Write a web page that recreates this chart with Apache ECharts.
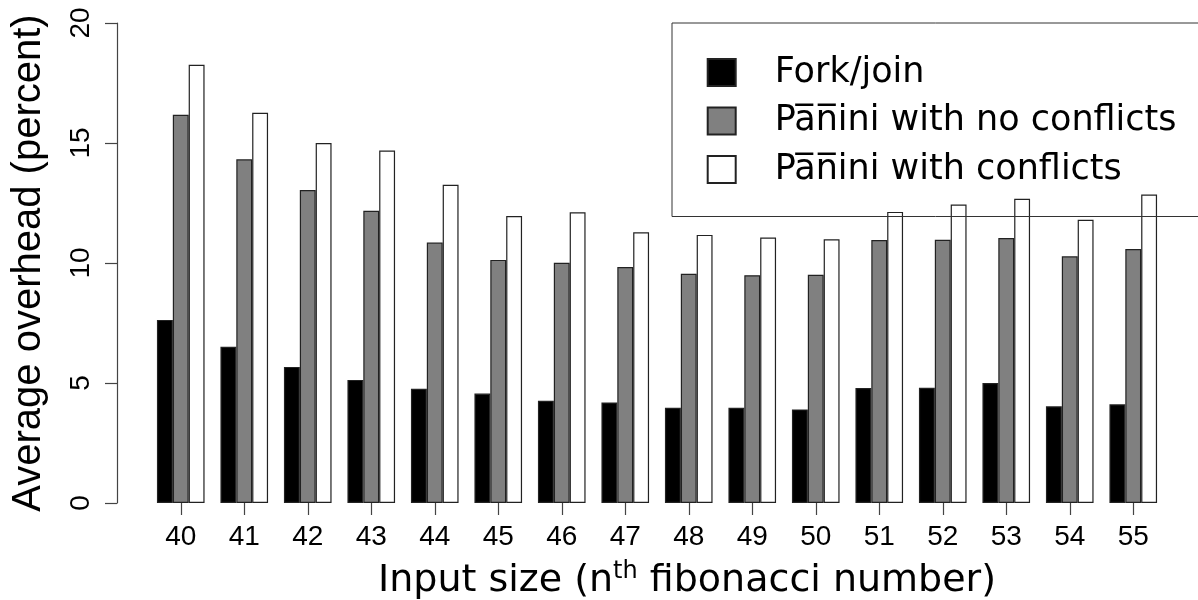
<!DOCTYPE html>
<html>
<head>
<meta charset="utf-8">
<script src="https://cdn.jsdelivr.net/npm/echarts@6/dist/echarts.min.js"></script>
<style>html,body{margin:0;padding:0;background:#fff;}#c{width:1198px;height:600px;}</style>
</head>
<body>
<div id="c"></div>
<script>
var categories = ['40','41','42','43','44','45','46','47','48','49','50','51','52','53','54','55'];
var forkJoin = [7.63, 6.51, 5.67, 5.13, 4.76, 4.56, 4.26, 4.19, 3.97, 3.97, 3.90, 4.79, 4.80, 5.00, 4.03, 4.11];
var paniniNoConflicts = [16.18, 14.32, 13.04, 12.18, 10.85, 10.13, 10.01, 9.83, 9.55, 9.49, 9.51, 10.96, 10.97, 11.04, 10.28, 10.58];
var paniniConflicts = [18.26, 16.26, 15.00, 14.69, 13.26, 11.96, 12.11, 11.28, 11.17, 11.06, 10.99, 12.13, 12.44, 12.68, 11.80, 12.85];
var seriesNames = ['Fork/join', 'Pa\u0305n\u0305ini with no conflicts', 'Pa\u0305n\u0305ini with conflicts'];
var yTicks = [0, 5, 10, 15, 20];

var chart = echarts.init(document.getElementById('c'));
var font = 'Liberation Sans';
function bar(name, data, color) {
  return {
    name: name, type: 'bar', data: data,
    barWidth: 15.875, barGap: '0%',
    itemStyle: { color: color, borderColor: '#222', borderWidth: 1.2 },
    emphasis: { disabled: true }
  };
}
chart.setOption({
  animation: false,
  backgroundColor: '#fff',
  grid: { left: 149, right: 33, top: 23, bottom: 97, outerBoundsMode: 'none' },
  legend: {
    orient: 'vertical', left: 672, top: 23,
    padding: [32, 90, 29.5, 34.7],
    borderColor: '#333', borderWidth: 1,
    itemWidth: 28, itemHeight: 27, itemGap: 13.5,
    icon: 'rect', selectedMode: false,
    textStyle: { fontFamily: 'DejaVu Sans', fontSize: 35, color: '#000', lineHeight: 27, padding: [0, 0, 0, 34] },
    data: seriesNames
  },
  xAxis: {
    type: 'category', data: categories,
    axisLine: { show: false },
    axisTick: { show: true, alignWithLabel: true, length: 12, lineStyle: { color: '#444', width: 1.2 } },
    axisLabel: { fontFamily: font, fontSize: 28, color: '#000', margin: 20 },
    name: '{a|Input size (n}{s|th}{a| fibonacci number)}',
    nameLocation: 'middle', nameGap: 47,
    nameTextStyle: {
      fontFamily: 'DejaVu Sans', fontSize: 38, color: '#000', padding: [0, 0, 0, 60],
      rich: {
        a: { fontFamily: 'DejaVu Sans', fontSize: 38, color: '#000', lineHeight: 40, padding: [6, 0, 0, 0], verticalAlign: 'bottom' },
        s: { fontFamily: 'DejaVu Sans', fontSize: 24, color: '#000', lineHeight: 24, verticalAlign: 'top' }
      }
    }
  },
  yAxis: {
    type: 'value', min: 0, max: 20, interval: 5, offset: 32,
    splitLine: { show: false },
    axisLine: { show: true, lineStyle: { color: '#444', width: 1.2 } },
    axisTick: { show: true, length: 12, lineStyle: { color: '#444', width: 1.2 } },
    axisLabel: { fontFamily: font, fontSize: 28, color: '#000', rotate: 90, margin: 22,
      formatter: function (v) { return yTicks.indexOf(v) >= 0 ? String(v) : ''; } },
    name: 'Average overhead (percent)', nameLocation: 'middle', nameGap: 68,
    nameTextStyle: { fontFamily: font, fontSize: 40, color: '#000' }
  },
  series: [
    bar(seriesNames[0], forkJoin, '#000000'),
    bar(seriesNames[1], paniniNoConflicts, '#808080'),
    bar(seriesNames[2], paniniConflicts, '#ffffff')
  ]
});
</script>
</body>
</html>
